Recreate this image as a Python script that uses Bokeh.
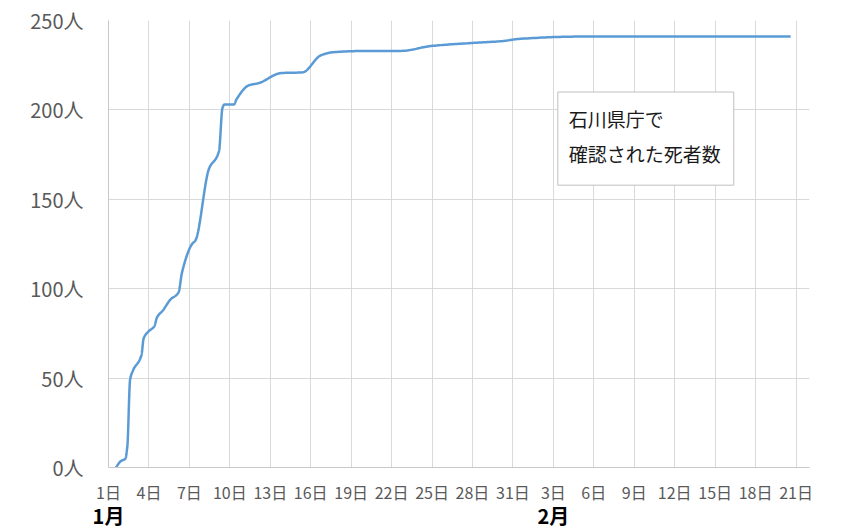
import numpy as np
from bokeh.plotting import figure
from bokeh.models import (Range1d, FixedTicker, BoxAnnotation, Label, LinearAxis)
from bokeh.embed import file_html
from bokeh.resources import INLINE

# ---- data ----
# x: day position where 1 = "1日" (Jan 1), 32 = Feb 1, etc.
day = [1.55, 1.9, 2.25, 2.4, 2.6, 2.8, 3.45, 3.6, 3.95, 4.4, 4.6, 5.05, 5.6, 6.2, 6.45,
       7.2, 7.45, 8.45, 9.2, 9.45, 9.6, 10.3, 10.5, 11.4, 12.15, 13.8, 15.4,
       16.75, 17.7, 20.4, 22.7, 24.9, 27.9, 30.1, 31.6, 36.0, 51.6]
deaths = [0, 3.5, 5, 12, 49, 54, 63, 72, 76, 79, 84, 88, 94, 98, 109,
          125, 127, 167, 177, 201, 203, 203, 206, 213.7, 215, 220.6, 221,
          230.5, 232.3, 233, 233, 235.7, 237.4, 238.4, 239.8, 241, 241]

x_ticks = [1, 4, 7, 10, 13, 16, 19, 22, 25, 28, 31, 34, 37, 40, 43, 46, 49, 52]
x_tick_labels = ["1日", "4日", "7日", "10日", "13日", "16日", "19日", "22日", "25日",
                 "28日", "31日", "3日", "6日", "9日", "12日", "15日", "18日", "21日"]
month_ticks = [1, 34]
month_labels = ["1月", "2月"]
y_ticks = [0, 50, 100, 150, 200, 250]
y_tick_labels = ["0人", "50人", "100人", "150人", "200人", "250人"]
box_lines = ["石川県庁で", "確認された死者数"]

FONT = "Noto Sans CJK JP"


def smooth(xs, ys, n=20):
    """Monotone cubic (Fritsch-Carlson) smoothing for a smoothed line."""
    x = np.asarray(xs, float)
    y = np.asarray(ys, float)
    h = np.diff(x)
    d = np.diff(y) / h
    m = np.zeros_like(x)
    m[0], m[-1] = d[0], d[-1]
    for i in range(1, len(x) - 1):
        if d[i - 1] * d[i] <= 0:
            m[i] = 0.0
        else:
            w1 = 2 * h[i] + h[i - 1]
            w2 = h[i] + 2 * h[i - 1]
            m[i] = (w1 + w2) / (w1 / d[i - 1] + w2 / d[i])
    ox, oy = [], []
    for i in range(len(x) - 1):
        t = np.linspace(0, 1, n, endpoint=(i == len(x) - 2))
        h00 = 2 * t**3 - 3 * t**2 + 1
        h10 = t**3 - 2 * t**2 + t
        h01 = -2 * t**3 + 3 * t**2
        h11 = t**3 - t**2
        ox.append(x[i] + t * h[i])
        oy.append(h00 * y[i] + h10 * h[i] * m[i] + h01 * y[i + 1] + h11 * h[i] * m[i + 1])
    return np.concatenate(ox), np.concatenate(oy)


p = figure(width=849, height=532, output_backend="svg", toolbar_location=None,
           x_range=Range1d(1, 53), y_range=Range1d(0, 250),
           min_border_left=108, min_border_right=40, min_border_top=20,
           min_border_bottom=64)
p.outline_line_color = None
p.background_fill_color = "white"

# axes
p.xaxis.ticker = FixedTicker(ticks=x_ticks)
p.xaxis.major_label_overrides = {t: l for t, l in zip(x_ticks, x_tick_labels)}
p.xaxis.major_label_text_font = FONT
p.xaxis.major_label_text_font_size = "16px"
p.xaxis.major_label_text_color = "#595959"
p.xaxis.axis_line_color = "#c8c8c8"
p.xaxis.major_tick_line_color = None
p.xaxis.minor_tick_line_color = None
p.xaxis.major_label_standoff = 6

month_axis = LinearAxis(ticker=FixedTicker(ticks=month_ticks),
                        major_label_overrides={t: l for t, l in zip(month_ticks, month_labels)})
month_axis.axis_line_color = None
month_axis.major_tick_line_color = None
month_axis.minor_tick_line_color = None
month_axis.major_label_text_font = FONT
month_axis.major_label_text_font_size = "20px"
month_axis.major_label_text_font_style = "bold"
month_axis.major_label_text_color = "black"
month_axis.major_label_standoff = -12
p.add_layout(month_axis, "below")

p.yaxis.ticker = FixedTicker(ticks=y_ticks)
p.yaxis.major_label_overrides = {t: l for t, l in zip(y_ticks, y_tick_labels)}
p.yaxis.major_label_text_font = FONT
p.yaxis.major_label_text_font_size = "20px"
p.yaxis.major_label_text_color = "#595959"
p.yaxis.axis_line_color = "#c8c8c8"
p.yaxis.major_tick_line_color = None
p.yaxis.minor_tick_line_color = None
p.yaxis.major_label_standoff = 19

p.xgrid.ticker = FixedTicker(ticks=x_ticks)
p.xgrid.grid_line_color = "#d9d9d9"
p.ygrid.ticker = FixedTicker(ticks=y_ticks)
p.ygrid.grid_line_color = "#d9d9d9"

sx, sy = smooth(day, deaths)
p.line(sx, sy, line_color="#5b9bd5", line_width=2.5)

box = BoxAnnotation(left=34.33, right=47.38, bottom=157.9, top=210,
                    fill_color="white", fill_alpha=1.0,
                    line_color="#bfbfbf", line_width=1, line_alpha=1.0)
p.add_layout(box)
for txt, yy in zip(box_lines, [195.3, 175.8]):
    p.add_layout(Label(x=35.15, y=yy, text=txt, text_font=FONT,
                       text_font_size="19px", text_baseline="middle",
                       text_color="#1a1a1a"))

open("out.html", "w").write(file_html(p, INLINE))
